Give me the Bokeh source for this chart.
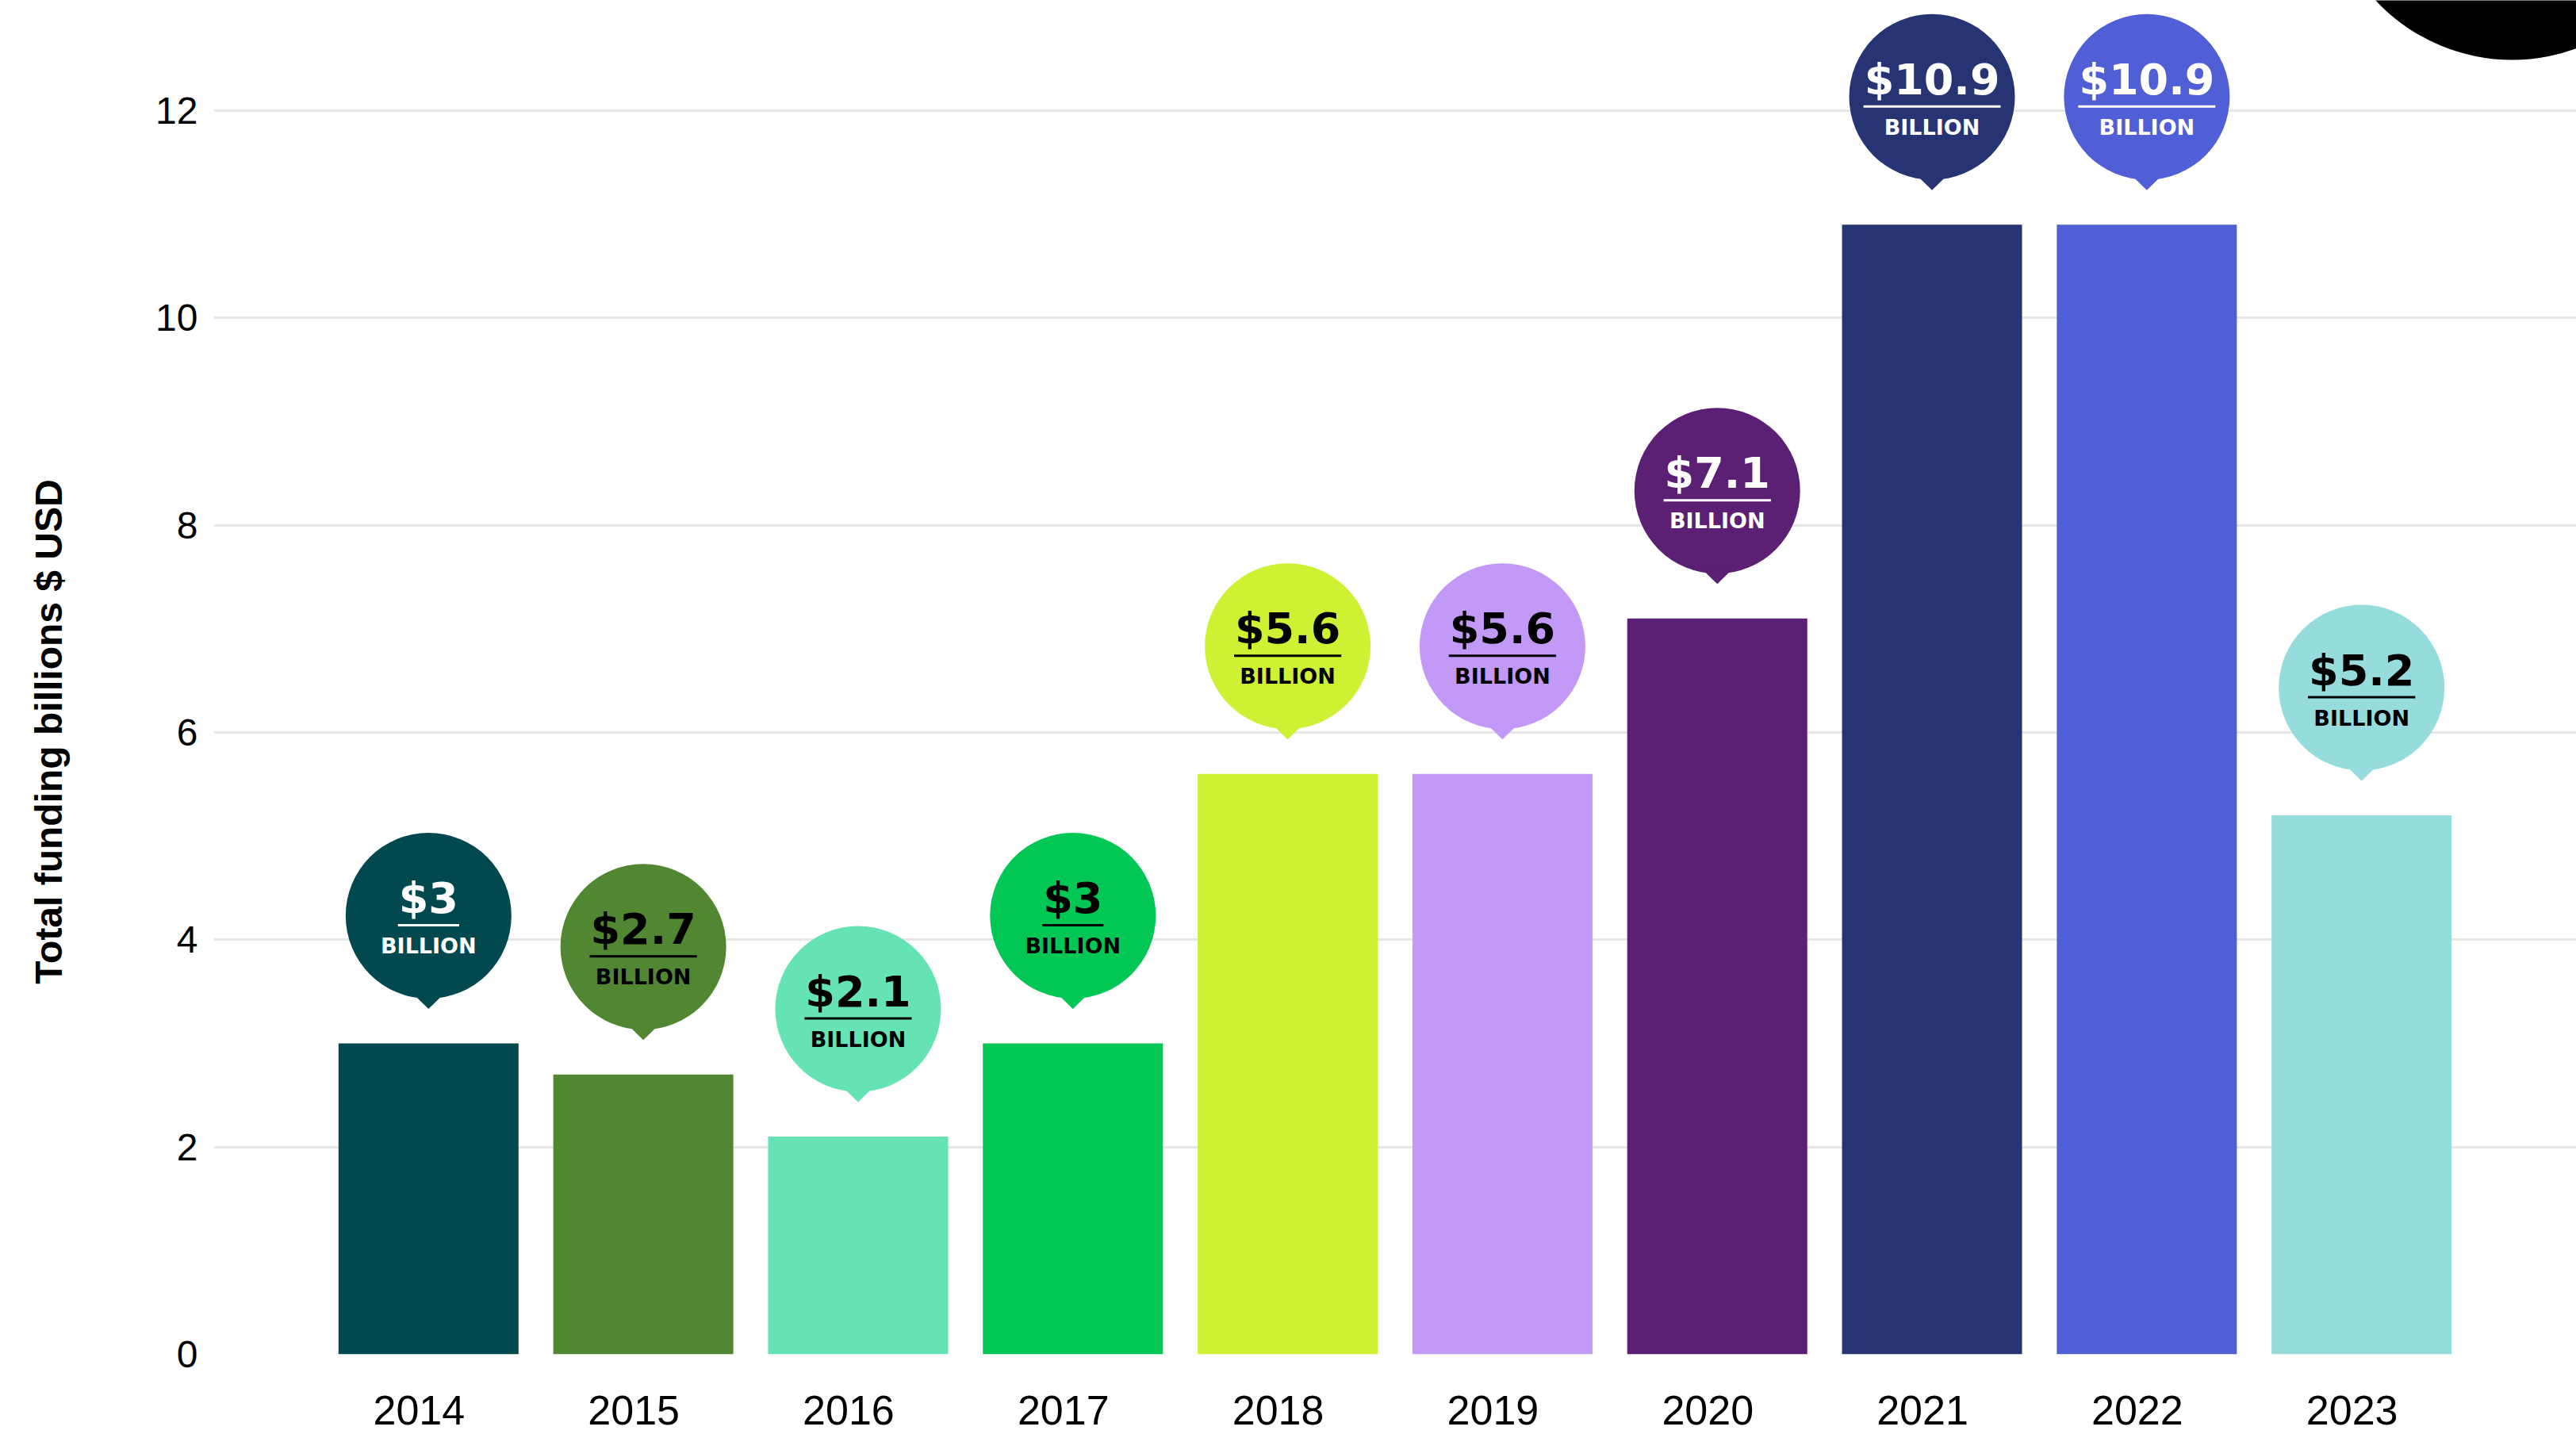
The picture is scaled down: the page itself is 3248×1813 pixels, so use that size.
import math
from bokeh.plotting import figure
from bokeh.layouts import row
from bokeh.models import Range1d, FixedTicker, ColumnDataSource
from bokeh.core.properties import value
from bokeh.embed import file_html
from bokeh.resources import INLINE

# ---- data ----
years = [2014, 2015, 2016, 2017, 2018, 2019, 2020, 2021, 2022, 2023]
funding = [3.0, 2.7, 2.1, 3.0, 5.6, 5.6, 7.1, 10.9, 10.9, 5.2]
value_labels = ["$3", "$2.7", "$2.1", "$3", "$5.6", "$5.6", "$7.1", "$10.9", "$10.9", "$5.2"]
unit_label = "BILLION"
bar_colors = ["#02494f", "#518733", "#66e3b4", "#03c754", "#cef233",
              "#c399f7", "#5b1f74", "#273474", "#505fd6", "#97dcdc"]
label_colors = ["#ffffff", "#000000", "#000000", "#000000", "#000000",
                "#000000", "#ffffff", "#ffffff", "#ffffff", "#000000"]
y_ticks = [0, 2, 4, 6, 8, 10, 12]
y_title = "Total funding billions $ USD"

# ---- layout ----
W, H = 3248, 1813
WT = 140                          # strip holding the y-axis title
WM = W - WT
BL, BB = 269 - WT, 106
FW, FH = WM - BL, H - BB
X0, X1 = 2013, 2024
pyu = (FH - 139) / 12.0          # pixels per funding unit
Y0, Y1 = 0, FH / pyu
pxu = FW / (X1 - X0)

p = figure(width=WM, height=H, x_range=Range1d(X0, X1), y_range=Range1d(Y0, Y1),
           output_backend="svg", toolbar_location=None,
           min_border_left=BL, min_border_right=0, min_border_top=0, min_border_bottom=BB)
p.outline_line_color = None
p.background_fill_color = "white"
p.border_fill_color = "white"
p.xgrid.visible = False
p.ygrid.grid_line_color = "#e6e6e6"
p.ygrid.grid_line_width = 3
p.ygrid.ticker = FixedTicker(ticks=y_ticks)

# axes
shift = 12 / pxu
xt = [round(y - shift, 4) for y in years]
p.xaxis.ticker = FixedTicker(ticks=xt)
p.xaxis.major_label_overrides = {t: str(y) for t, y in zip(xt, years)}
p.yaxis.ticker = FixedTicker(ticks=y_ticks)
for ax in (p.xaxis, p.yaxis):
    ax.axis_line_color = None
    ax.major_tick_line_color = None
    ax.minor_tick_line_color = None
    ax.major_label_text_font = "Liberation Sans"
    ax.major_label_text_color = "#000000"
p.xaxis.major_label_text_font_size = "52px"
p.yaxis.major_label_text_font_size = "48px"
p.xaxis.major_label_standoff = 46
p.yaxis.major_label_standoff = 14

# bars
src = ColumnDataSource(dict(x=years, top=funding, color=bar_colors))
p.vbar(x="x", top="top", bottom=0, width=227 / pxu, fill_color="color",
       line_color=None, source=src)

# decorative corner blob
p.circle(x=[X1 - 81 / pxu], y=[Y1 + 160 / pyu], radius=235, radius_units="screen",
         fill_color="#000000", line_color=None)

# bubbles
R = 104.5
cy = [v + 161 / pyu for v in funding]
p.scatter(x=years, y=cy, size=2 * R, marker="circle", fill_color=bar_colors, line_color=None)
pxs = [[x - 19.5 / pxu, x + 19.5 / pxu, x] for x in years]
pys = [[c - (R - 6) / pyu, c - (R - 6) / pyu, c - (R + 13) / pyu] for c in cy]
p.patches(xs=pxs, ys=pys, fill_color=bar_colors, line_color=None)

VAL_FS = 54
char_em = {"$": 0.696, ".": 0.380}
def text_w(s):
    return sum(char_em.get(ch, 0.696) for ch in s) * VAL_FS

p.text(x=years, y=[c + 22 / pyu for c in cy], text=value_labels,
       text_color=label_colors, text_font=value("DejaVu Sans"), text_font_style="bold",
       text_font_size=f"{VAL_FS}px", text_align="center", text_baseline="middle")
half = [(text_w(s) / 2 + 1) / pxu for s in value_labels]
p.segment(x0=[x - h for x, h in zip(years, half)], x1=[x + h for x, h in zip(years, half)],
          y0=[c - 12 / pyu for c in cy], y1=[c - 12 / pyu for c in cy],
          line_color=label_colors, line_width=3)
p.text(x=years, y=[c - 38 / pyu for c in cy], text=[unit_label] * len(years),
       text_color=label_colors, text_font=value("DejaVu Sans"), text_font_style="bold",
       text_font_size="27px", text_align="center", text_baseline="middle")

# y-axis title strip (pixel-unit ranges, frame matched to the main plot's frame)
t = figure(width=WT, height=H, x_range=Range1d(0, WT), y_range=Range1d(0, FH),
           output_backend="svg", toolbar_location=None,
           min_border_left=0, min_border_right=0, min_border_top=0, min_border_bottom=BB)
t.axis.visible = False
t.grid.visible = False
t.outline_line_color = None
t.background_fill_color = "white"
t.border_fill_color = "white"
t.text(x=[61], y=[FH - 922], text=[y_title], angle=math.pi / 2,
       text_align="center", text_baseline="middle", text_color="#000000",
       text_font=value("Liberation Sans"), text_font_style="bold", text_font_size="48px")

layout = row(t, p, spacing=0)
open("out.html", "w").write(file_html(layout, INLINE))
